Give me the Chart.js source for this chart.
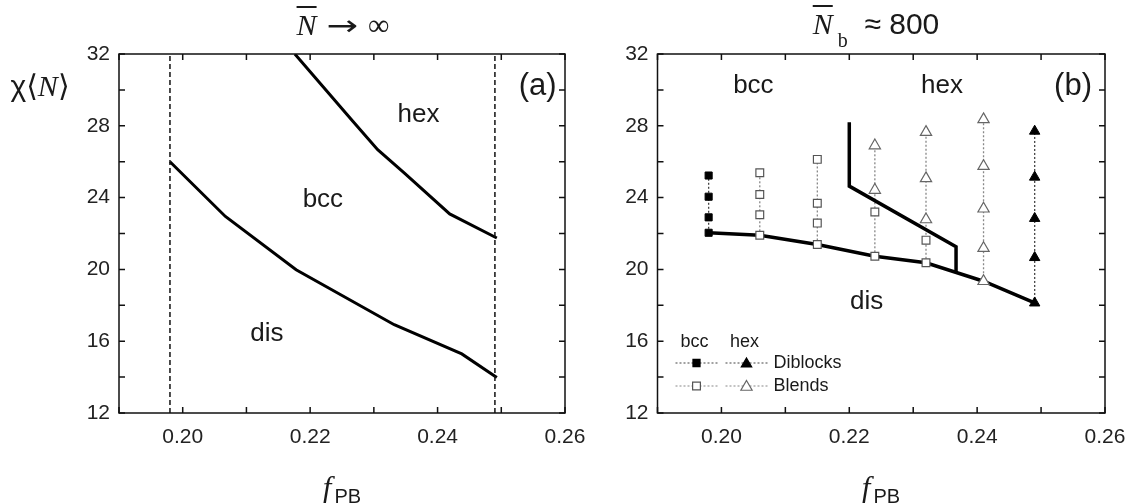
<!DOCTYPE html>
<html>
<head>
<meta charset="utf-8">
<script src="https://cdn.jsdelivr.net/npm/chart.js@4.4.0/dist/chart.umd.min.js"></script>
<style>
body { margin: 0; width: 1130px; height: 503px; background: #fff; position: relative; overflow: hidden;
       font-family: "Liberation Sans", Arial, sans-serif; color: #1a1a1a; }
canvas { position: absolute; top: 0; }
#chartA { left: 0; }
#chartB { left: 600px; }
.lbl { position: absolute; white-space: nowrap; transform: translateX(-50%); }
.serif { font-family: "Liberation Serif", "DejaVu Serif", serif; }
.bar { text-decoration: overline; text-decoration-thickness: 1.5px; }
.arrow { display: inline-block; font-family: "DejaVu Sans", sans-serif; font-size: 28px; transform: scaleX(1.35); margin: 0 14px 0 14px; }
</style>
</head>
<body>
<canvas id="chartA" width="600" height="503"></canvas>
<canvas id="chartB" width="530" height="503"></canvas>

<div class="lbl" style="left:343px; top:10px; font-size:30px; line-height:30px;"><span class="serif"><i class="bar">N</i><span class="arrow">&rarr;</span>&infin;</span></div>
<div class="lbl" style="left:876px; top:9px; font-size:30px; line-height:30px;"><span class="serif"><i class="bar">N</i></span><span class="serif" style="font-size:20px; position:relative; top:13px; margin-left:5px;">b</span>&nbsp; &asymp; 800</div>
<div class="lbl" style="left:40px; top:71px; font-size:30px; line-height:30px;">&chi;<span style="font-family:'DejaVu Sans';">&#10216;</span><span class="serif"><i>N</i></span><span style="font-family:'DejaVu Sans';">&#10217;</span></div>
<div class="lbl" style="left:342px; top:473px; line-height:30px;"><span class="serif" style="font-size:31px;"><i>f</i></span><span style="font-size:20px; position:relative; top:5px; margin-left:3px;">PB</span></div>
<div class="lbl" style="left:881px; top:473px; line-height:30px;"><span class="serif" style="font-size:31px;"><i>f</i></span><span style="font-size:20px; position:relative; top:5px; margin-left:3px;">PB</span></div>

<script>
// ---- axis ticks ----
var fTickLabels = ['0.20', '0.22', '0.24', '0.26'];
var chiTickLabels = [12, 16, 20, 24, 28, 32];

// ---- panel (a): N -> infinity ----
var aLimitF = [0.198, 0.249];
var aDisBccF   = [0.198, 0.2067, 0.2178, 0.2332, 0.2438, 0.2493];
var aDisBccChi = [26.0, 22.95, 19.98, 16.92, 15.29, 13.98];
var aBccHexF   = [0.2176, 0.2267, 0.2306, 0.2348, 0.2419, 0.2493];
var aBccHexChi = [32.0, 28.25, 26.67, 25.37, 23.09, 21.75];
var aTexts = ['hex', 'bcc', 'dis', '(a)'];
var aTextF = [0.2370, 0.2220, 0.2132, 0.2557];
var aTextChi = [28.6, 23.9, 16.4, 30.2];

// ---- panel (b): Nb ~ 800 ----
var bDisF   = [0.198, 0.206, 0.215, 0.224, 0.232, 0.241, 0.249];
var bDisChi = [22.04, 21.9, 21.39, 20.73, 20.37, 19.34, 18.13];
var bHexF   = [0.220, 0.220, 0.2367, 0.2367];
var bHexChi = [28.2, 24.64, 21.26, 19.86];
var diBccF   = [0.198, 0.198, 0.198, 0.198];
var diBccChi = [22.04, 22.9, 24.05, 25.23];
var diHexF   = [0.249, 0.249, 0.249, 0.249, 0.249];
var diHexChi = [18.13, 20.66, 22.84, 25.14, 27.7];
var blBccF   = [0.206, 0.206, 0.206, 0.206, 0.215, 0.215, 0.215, 0.215, 0.224, 0.224, 0.232, 0.232];
var blBccChi = [21.9, 23.04, 24.17, 25.38, 21.39, 22.58, 23.69, 26.13, 20.73, 23.2, 20.37, 21.63];
var blHexF   = [0.224, 0.224, 0.232, 0.232, 0.232, 0.241, 0.241, 0.241, 0.241, 0.241];
var blHexChi = [24.42, 26.9, 22.78, 25.07, 27.65, 19.34, 21.18, 23.38, 25.75, 28.36];
var bTexts = ['bcc', 'hex', '(b)', 'dis'];
var bTextF = [0.2050, 0.2345, 0.2550, 0.2227];
var bTextChi = [30.2, 30.2, 30.2, 18.2];

var FONT = '"Liberation Sans", Arial, sans-serif';

function pts(xs, ys) {
    return xs.map(function (x, i) { return { x: x, y: ys[i] }; });
}

// dotted column through all markers that share one f
function columns(fs, chis, color) {
    var cols = {};
    fs.forEach(function (f, i) {
        if (!cols[f]) cols[f] = [];
        cols[f].push(chis[i]);
    });
    return Object.keys(cols).map(function (k) {
        var c = cols[k], f = parseFloat(k);
        return {
            data: [{ x: f, y: Math.min.apply(null, c) }, { x: f, y: Math.max.apply(null, c) }],
            showLine: true, pointRadius: 0, borderColor: color, borderWidth: 1.3,
            borderDash: [2, 2], order: 3
        };
    });
}

var framePlugin = {
    id: 'frame',
    afterDraw: function (chart) {
        var ctx = chart.ctx, a = chart.chartArea, xs = chart.scales.x, ys = chart.scales.y;
        ctx.save();
        ctx.strokeStyle = '#111';
        ctx.lineWidth = 1.5;
        ctx.beginPath();
        xs.ticks.forEach(function (t) {
            var p = xs.getPixelForValue(t.value);
            ctx.moveTo(p, a.bottom); ctx.lineTo(p, a.bottom - 6);
            ctx.moveTo(p, a.top); ctx.lineTo(p, a.top + 6);
        });
        ys.ticks.forEach(function (t) {
            var p = ys.getPixelForValue(t.value);
            ctx.moveTo(a.left, p); ctx.lineTo(a.left + 6, p);
            ctx.moveTo(a.right, p); ctx.lineTo(a.right - 6, p);
        });
        ctx.stroke();
        ctx.strokeRect(a.left, a.top, a.right - a.left, a.bottom - a.top);
        ctx.restore();
    }
};

var textPlugin = {
    id: 'phaseText',
    afterDatasetsDraw: function (chart, args, opts) {
        var ctx = chart.ctx, xs = chart.scales.x, ys = chart.scales.y;
        ctx.save();
        ctx.fillStyle = '#1a1a1a';
        ctx.textAlign = 'center';
        ctx.textBaseline = 'middle';
        opts.texts.forEach(function (t, i) {
            ctx.font = (t.charAt(0) == '(' ? 31 : 26) + 'px ' + FONT;
            ctx.fillText(t, xs.getPixelForValue(opts.f[i]), ys.getPixelForValue(opts.chi[i]));
        });
        ctx.restore();
    }
};

function square(ctx, x, y, r, fill, stroke) {
    var s = Math.SQRT1_2 * r;
    ctx.fillStyle = fill; ctx.strokeStyle = stroke; ctx.lineWidth = 1.2;
    ctx.beginPath(); ctx.rect(x - s, y - s, 2 * s, 2 * s); ctx.fill(); ctx.stroke();
}
function triangle(ctx, x, y, r, fill, stroke) {
    ctx.fillStyle = fill; ctx.strokeStyle = stroke; ctx.lineWidth = 1.2;
    ctx.beginPath();
    ctx.moveTo(x, y - r);
    ctx.lineTo(x + r * 0.866, y + r * 0.5);
    ctx.lineTo(x - r * 0.866, y + r * 0.5);
    ctx.closePath(); ctx.fill(); ctx.stroke();
}

var legendPlugin = {
    id: 'boxLegend',
    afterDraw: function (chart) {
        var ctx = chart.ctx, a = chart.chartArea;
        var x0 = a.left, yb = a.bottom;
        ctx.save();
        ctx.fillStyle = '#1a1a1a';
        ctx.font = '18px ' + FONT;
        ctx.textBaseline = 'middle';
        ctx.textAlign = 'center';
        ctx.fillText('bcc', x0 + 37, yb - 71);
        ctx.fillText('hex', x0 + 87, yb - 71);
        ctx.textAlign = 'left';
        ctx.fillText('Diblocks', x0 + 116, yb - 50);
        ctx.fillText('Blends', x0 + 116, yb - 27);
        [[yb - 50, '#444'], [yb - 27, '#888']].forEach(function (row) {
            ctx.strokeStyle = row[1];
            ctx.lineWidth = 1.2;
            ctx.setLineDash([2, 2]);
            ctx.beginPath();
            ctx.moveTo(x0 + 18, row[0]); ctx.lineTo(x0 + 61, row[0]);
            ctx.moveTo(x0 + 68, row[0]); ctx.lineTo(x0 + 111, row[0]);
            ctx.stroke();
            ctx.setLineDash([]);
        });
        square(ctx, x0 + 39, yb - 50, 5, '#000', '#000');
        triangle(ctx, x0 + 89, yb - 49, 6, '#000', '#000');
        square(ctx, x0 + 39, yb - 27, 5.5, '#fff', '#555');
        triangle(ctx, x0 + 89, yb - 26, 6.5, '#fff', '#666');
        ctx.restore();
    }
};

function options(yWidth, rightPad, texts) {
    return {
        responsive: false,
        animation: false,
        devicePixelRatio: 1,
        layout: { padding: { top: 54, right: rightPad, bottom: 0, left: 0 } },
        plugins: { legend: { display: false }, tooltip: { enabled: false }, phaseText: texts },
        scales: {
            x: {
                type: 'linear', min: 0.19, max: 0.26,
                afterFit: function (s) { s.height = 90; s.paddingLeft = 0; s.paddingRight = 0; },
                grid: { display: false, drawTicks: false }, border: { display: false },
                ticks: {
                    stepSize: 0.01, padding: 12, color: '#222', maxRotation: 0, autoSkip: false,
                    font: { family: FONT, size: 21 },
                    callback: function (v) {
                        var t = v.toFixed(2);
                        return fTickLabels.indexOf(t) >= 0 ? t : '';
                    }
                }
            },
            y: {
                type: 'linear', min: 12, max: 32,
                afterFit: function (s) { s.width = yWidth; s.paddingTop = 0; s.paddingBottom = 0; },
                grid: { display: false, drawTicks: false }, border: { display: false },
                ticks: {
                    stepSize: 2, padding: 9, color: '#222',
                    font: { family: FONT, size: 21 },
                    callback: function (v) {
                        return chiTickLabels.indexOf(Math.round(v)) >= 0 ? String(Math.round(v)) : '';
                    }
                }
            }
        }
    };
}

// ---- chart (a) ----
var dsA = aLimitF.map(function (f) {
    return { data: [{ x: f, y: 12 }, { x: f, y: 32 }], showLine: true, pointRadius: 0,
             borderColor: '#111', borderWidth: 1.5, borderDash: [5, 3] };
});
dsA.push({ data: pts(aDisBccF, aDisBccChi), showLine: true, pointRadius: 0, borderColor: '#000', borderWidth: 3 });
dsA.push({ data: pts(aBccHexF, aBccHexChi), showLine: true, pointRadius: 0, borderColor: '#000', borderWidth: 3 });

new Chart(document.getElementById('chartA'), {
    type: 'scatter',
    data: { datasets: dsA },
    options: options(119, 35, { texts: aTexts, f: aTextF, chi: aTextChi }),
    plugins: [framePlugin, textPlugin]
});

// ---- chart (b) ----
var dsB = [
    { data: pts(diBccF, diBccChi), pointStyle: 'rect', pointRadius: 5, backgroundColor: '#000', borderColor: '#000', borderWidth: 1, order: 0 },
    { data: pts(diHexF, diHexChi), pointStyle: 'triangle', pointRadius: 6, backgroundColor: '#000', borderColor: '#000', borderWidth: 1, order: 0 },
    { data: pts(blBccF, blBccChi), pointStyle: 'rect', pointRadius: 5.5, backgroundColor: '#fff', borderColor: '#555', borderWidth: 1.2, order: 0 },
    { data: pts(blHexF, blHexChi), pointStyle: 'triangle', pointRadius: 6.5, backgroundColor: '#fff', borderColor: '#666', borderWidth: 1.2, order: 0 },
    { data: pts(bDisF, bDisChi), showLine: true, pointRadius: 0, borderColor: '#000', borderWidth: 3.5, order: 1 },
    { data: pts(bHexF, bHexChi), showLine: true, pointRadius: 0, borderColor: '#000', borderWidth: 3.5, order: 1 }
];
dsB = dsB.concat(columns(diBccF.concat(diHexF), diBccChi.concat(diHexChi), '#444'));
dsB = dsB.concat(columns(blBccF.concat(blHexF), blBccChi.concat(blHexChi), '#888'));

new Chart(document.getElementById('chartB'), {
    type: 'scatter',
    data: { datasets: dsB },
    options: options(57.5, 25, { texts: bTexts, f: bTextF, chi: bTextChi }),
    plugins: [framePlugin, textPlugin, legendPlugin]
});
</script>
</body>
</html>
